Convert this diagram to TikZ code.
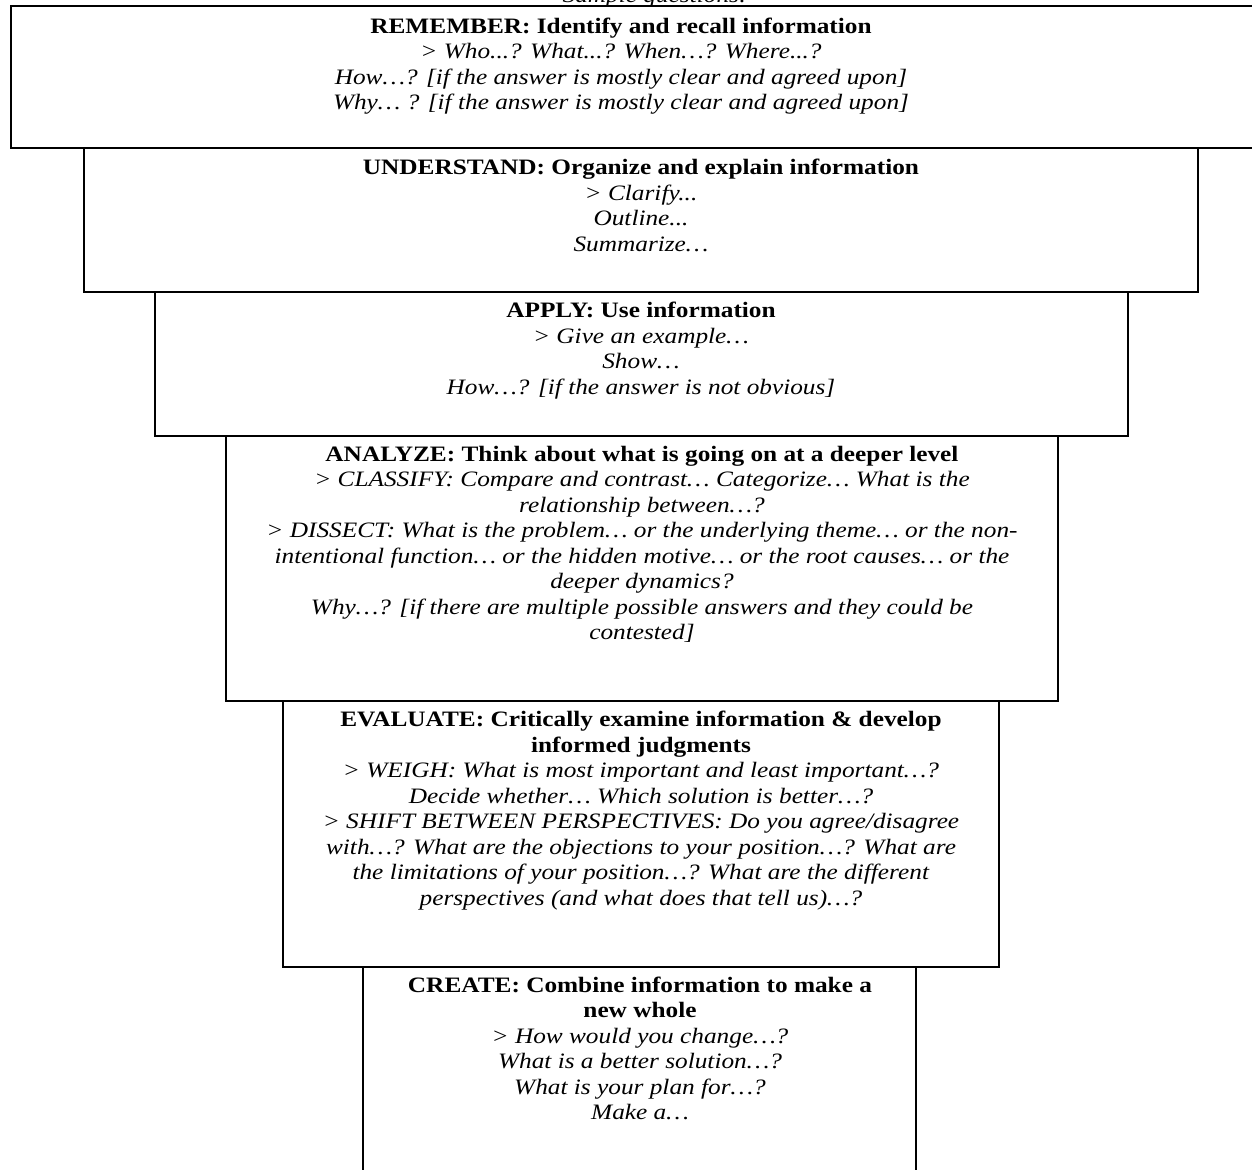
\documentclass[tikz,border=0pt]{standalone}
\usepackage{fontspec}
\setmainfont{Liberation Serif}[FakeStretch=1.15]
\tikzset{
  tier/.style={draw=black, line width=1.2pt},
  tiertext/.style={anchor=north, inner sep=0pt, align=center, font=\fontsize{11}{12.75}\selectfont},
}
\begin{document}
\begin{tikzpicture}[x=0.5pt,y=-0.5pt]
\useasboundingbox (0,0) rectangle (1252,1169);
\clip (0,0) rectangle (1252,1169);
\fill[white] (0,0) rectangle (1252,1169);

% clipped heading fragment at the very top
\node[anchor=base, inner sep=0pt, font=\fontsize{11}{12.75}\selectfont\itshape] (head) at (655,2) {Sample questions:};

% tier boxes
\draw[tier] (11,6) rectangle (1290,148);
\draw[tier] (84,148) rectangle (1198,292);
\draw[tier] (155,292) rectangle (1128,436);
\draw[tier] (226,436) rectangle (1058,701);
\draw[tier] (283,701) rectangle (999,967);
\draw[tier] (363,967) rectangle (916,1200);

\node[tiertext] (remember) at (621,15) {\strut\textbf{REMEMBER: Identify and recall information}\\
\textit{> Who...? What...? When…? Where...?}\\
\textit{How…? [if the answer is mostly clear and agreed upon]}\\
\textit{Why… ? [if the answer is mostly clear and agreed upon]}};

\node[tiertext] (understand) at (641,156.5) {\strut\textbf{UNDERSTAND: Organize and explain information}\\
\textit{> Clarify...}\\
\textit{Outline...}\\
\textit{Summarize…}};

\node[tiertext] (apply) at (641,299.5) {\strut\textbf{APPLY: Use information}\\
\textit{> Give an example…}\\
\textit{Show…}\\
\textit{How…? [if the answer is not obvious]}};

\node[tiertext] (analyze) at (642,443) {\strut\textbf{ANALYZE: Think about what is going on at a deeper level}\\
\textit{> CLASSIFY: Compare and contrast… Categorize… What is the}\\
\textit{relationship between…?}\\
\textit{> DISSECT: What is the problem… or the underlying theme… or the non-}\\
\textit{intentional function… or the hidden motive… or the root causes… or the}\\
\textit{deeper dynamics?}\\
\textit{Why…? [if there are multiple possible answers and they could be}\\
\textit{contested]}};

\node[tiertext] (evaluate) at (641,708.5) {\strut\textbf{EVALUATE: Critically examine information \& develop}\\
\textbf{informed judgments}\\
\textit{> WEIGH: What is most important and least important…?}\\
\textit{Decide whether… Which solution is better…?}\\
\textit{> SHIFT BETWEEN PERSPECTIVES: Do you agree/disagree}\\
\textit{with…? What are the objections to your position…? What are}\\
\textit{the limitations of your position…? What are the different}\\
\textit{perspectives (and what does that tell us)…?}};

\node[tiertext] (create) at (640,974) {\strut\textbf{CREATE: Combine information to make a}\\
\textbf{new whole}\\
\textit{> How would you change…?}\\
\textit{What is a better solution…?}\\
\textit{What is your plan for…?}\\
\textit{Make a…}};
\end{tikzpicture}
\end{document}
